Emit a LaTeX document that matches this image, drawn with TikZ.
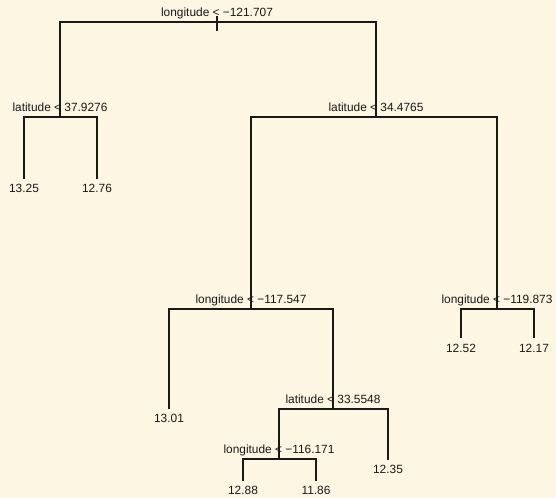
\documentclass[tikz,border=0pt]{standalone}
\usepackage{fontspec}
\setmainfont{Liberation Sans}
\definecolor{bg}{RGB}{253,246,227}
\definecolor{ink}{RGB}{25,25,25}
\begin{document}
\begin{tikzpicture}[x=1pt,y=-1pt,
  edge/.style={draw=ink,line width=1.4pt,line cap=rect},
  split/.style={anchor=base,inner sep=0pt,font=\fontsize{11.9}{13}\selectfont,text=ink},
  leaf/.style={anchor=base,inner sep=0pt,font=\fontsize{11.9}{13}\selectfont,text=ink}]
\fill[bg] (0,0) rectangle (556,498);
\useasboundingbox (0,0) rectangle (556,498);
% junction coordinates
\coordinate (r) at (217,22);
\coordinate (rt) at (217,17);
\coordinate (rb) at (217,30);
\coordinate (a) at (60,117);
\coordinate (b) at (376,117);
\coordinate (c) at (251,309);
\coordinate (d) at (497,309);
\coordinate (e) at (333,409);
\coordinate (f) at (279,459);
% leaf ends
\coordinate (l1) at (24,178);
\coordinate (l2) at (97,178);
\coordinate (l3) at (169,408);
\coordinate (l4) at (243,480);
\coordinate (l5) at (316,480);
\coordinate (l6) at (388,459);
\coordinate (l7) at (461,337);
\coordinate (l8) at (534,337);
% split labels
\node[split] (sr) at (217,16.5) {longitude < −121.707};
\node[split] (sa) at (60,111) {latitude < 37.9276};
\node[split] (sb) at (376,111) {latitude < 34.4765};
\node[split] (sc) at (251,303) {longitude < −117.547};
\node[split] (sd) at (497,303) {longitude < −119.873};
\node[split] (se) at (333,403) {latitude < 33.5548};
\node[split] (sf) at (279,453) {longitude < −116.171};
% leaf labels
\node[leaf] (t1) at (24,192) {13.25};
\node[leaf] (t2) at (97,192) {12.76};
\node[leaf] (t3) at (169,422) {13.01};
\node[leaf] (t4) at (243,494) {12.88};
\node[leaf] (t5) at (316,494) {11.86};
\node[leaf] (t6) at (388,473) {12.35};
\node[leaf] (t7) at (461,352) {12.52};
\node[leaf] (t8) at (534,352) {12.17};
% edges
\draw[edge] (rt) -- (rb);
\draw[edge] (a) |- (r) -| (b);
\draw[edge] (l1) |- (a) -| (l2);
\draw[edge] (c) |- (b) -| (d);
\draw[edge] (l3) |- (c) -| (e);
\draw[edge] (l7) |- (d) -| (l8);
\draw[edge] (f) |- (e) -| (l6);
\draw[edge] (l4) |- (f) -| (l5);
\end{tikzpicture}
\end{document}
